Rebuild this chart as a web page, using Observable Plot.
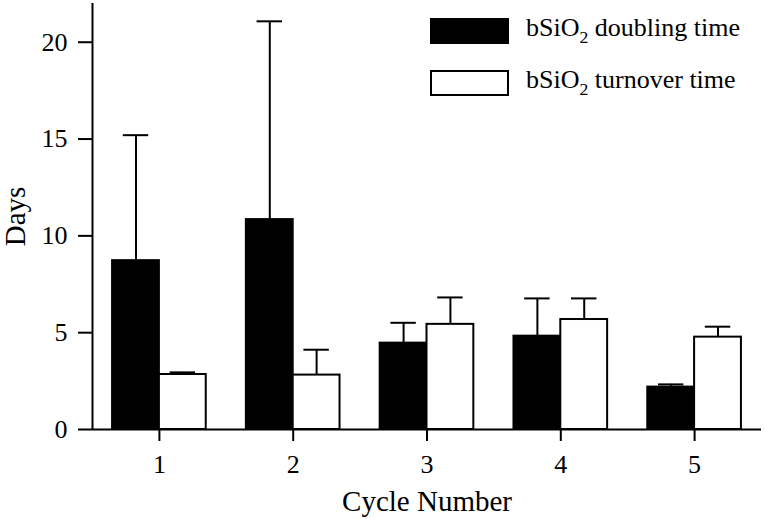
<!DOCTYPE html>
<html>
<head>
<meta charset="utf-8">
<script src="https://cdn.jsdelivr.net/npm/d3@7"></script>
<script src="https://cdn.jsdelivr.net/npm/@observablehq/plot@0.6"></script>
<style>
  html, body { margin: 0; padding: 0; background: #fff; }
  #wrap { position: relative; width: 764px; height: 519px; font-family: "Liberation Serif", "Times New Roman", Times, serif; color: #000; }
  #legend { position: absolute; left: 430px; top: 18px; font-family: "Liberation Serif", "Times New Roman", Times, serif; }
  .item { display: flex; align-items: center; height: 26px; margin-bottom: 26px; font-size: 26px; white-space: nowrap; }
  .sw { width: 79px; height: 26px; box-sizing: border-box; margin-right: 17px; border: 2px solid #000; }
  .lab { position: relative; top: -3px; font-family: "Liberation Serif", "Times New Roman", Times, serif; }
  .lab sub { font-family: "Liberation Serif", "Times New Roman", Times, serif; font-size: 0.68em; vertical-align: -7px; line-height: 0; }
</style>
</head>
<body>
<div id="wrap"><div id="legend"></div></div>
<script>
// ---- data ----
const cycles = [1, 2, 3, 4, 5];
const seriesKeys = ["doubling", "turnover"];
const seriesLabelMain = ["bSiO", "bSiO"];
const seriesLabelSub = ["2", "2"];
const seriesLabelRest = [" doubling time", " turnover time"];
const seriesFill = ["#000", "#fff"];
const doublingTime = [8.72, 10.84, 4.46, 4.82, 2.19];
const doublingErr = [6.48, 10.24, 1.05, 1.95, 0.14];
const turnoverTime = [2.84, 2.81, 5.43, 5.68, 4.77];
const turnoverErr = [0.11, 1.31, 1.39, 1.09, 0.54];
const yTicks = [0, 5, 10, 15, 20];
const xLabel = "Cycle Number";
const yLabel = "Days";

// ---- build table ----
const barW = 0.35;   // bar width in cycle units
const capW = 0.095;  // half-width of error-bar caps in cycle units
const values = [doublingTime, turnoverTime];
const errs = [doublingErr, turnoverErr];
const rows = [];
cycles.forEach((c, i) => {
  seriesKeys.forEach((s, j) => {
    const x1 = j === 0 ? c - barW : c;
    rows.push({cycle: c, series: s, value: values[j][i], err: errs[j][i],
      x1, x2: x1 + barW, xc: x1 + barW / 2, top: values[j][i] + errs[j][i]});
  });
});

const font = "'Liberation Serif', 'Times New Roman', Times, serif";
const chart = Plot.plot({
  width: 764,
  height: 519,
  marginLeft: 92,
  marginRight: 3,
  marginTop: 3,
  marginBottom: 90,
  style: {fontFamily: font, background: "#fff", color: "#000", overflow: "visible"},
  x: {domain: [0.5, 5.5]},
  y: {domain: [0, 22]},
  color: {domain: seriesKeys, range: seriesFill},
  marks: [
    Plot.rectY(rows, {x1: "x1", x2: "x2", y1: 0, y2: "value", fill: "series", stroke: "#000", strokeWidth: 2}),
    Plot.ruleX(rows, {x: "xc", y1: "value", y2: "top", stroke: "#000", strokeWidth: 2}),
    Plot.ruleY(rows, {y: "top", x1: d => d.xc - capW, x2: d => d.xc + capW, stroke: "#000", strokeWidth: 2}),
    Plot.ruleX([0.5], {stroke: "#000", strokeWidth: 2}),
    Plot.ruleY([0], {stroke: "#000", strokeWidth: 2}),
    Plot.axisY({ticks: yTicks, tickSize: 14, tickPadding: 11, fontSize: 26, fontFamily: font, strokeWidth: 2, label: null, fill: "#000", stroke: "#000"}),
    Plot.axisX({ticks: cycles, tickFormat: d => String(d), tickSize: 12, tickPadding: 13, fontSize: 26, fontFamily: font, strokeWidth: 2, label: null, fill: "#000", stroke: "#000"}),
    Plot.text([yLabel], {frameAnchor: "left", rotate: -90, dx: -77, fontSize: 29, fontFamily: font, fill: "#000", textAnchor: "middle", lineAnchor: "middle"}),
    Plot.text([xLabel], {frameAnchor: "bottom", dy: 81, fontSize: 29, fontFamily: font, fill: "#000", textAnchor: "middle", lineAnchor: "bottom"})
  ]
});
const wrap = document.getElementById("wrap");
wrap.insertBefore(chart, wrap.firstChild);

// ---- legend (HTML overlay) ----
const legend = document.getElementById("legend");
seriesKeys.forEach((k, j) => {
  const item = document.createElement("div");
  item.className = "item";
  const sw = document.createElement("div");
  sw.className = "sw";
  sw.style.background = seriesFill[j];
  const lab = document.createElement("span");
  lab.className = "lab";
  lab.appendChild(document.createTextNode(seriesLabelMain[j]));
  const sub = document.createElement("sub");
  sub.textContent = seriesLabelSub[j];
  lab.appendChild(sub);
  lab.appendChild(document.createTextNode(seriesLabelRest[j]));
  item.appendChild(sw);
  item.appendChild(lab);
  legend.appendChild(item);
});
</script>
</body>
</html>
